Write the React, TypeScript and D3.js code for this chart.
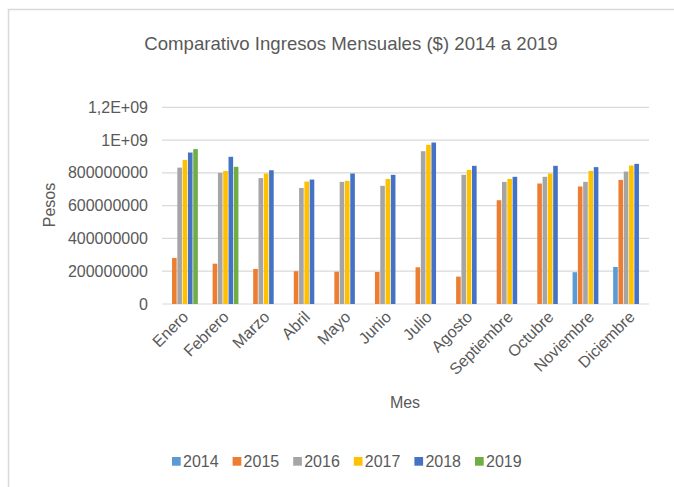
import React from "react";
import * as d3 from "d3";

const months = ["Enero","Febrero","Marzo","Abril","Mayo","Junio","Julio","Agosto","Septiembre","Octubre","Noviembre","Diciembre"];
const years = ["2014","2015","2016","2017","2018","2019"];
const colors = ["#5B9BD5","#ED7D31","#A5A5A5","#FFC000","#4472C4","#70AD47"];

const v2014 = [0,0,0,0,0,0,0,0,0,0,194e6,226e6];
const v2015 = [281e6,246e6,214e6,200e6,197e6,195e6,224e6,167e6,633e6,735e6,717e6,757e6];
const v2016 = [832e6,800e6,768e6,708e6,745e6,721e6,932e6,788e6,745e6,776e6,745e6,808e6];
const v2017 = [879e6,812e6,796e6,747e6,751e6,763e6,971e6,818e6,763e6,796e6,812e6,845e6];
const v2018 = [924e6,898e6,816e6,759e6,796e6,788e6,985e6,843e6,776e6,843e6,835e6,855e6];
const v2019 = [945e6,837e6,0,0,0,0,0,0,0,0,0,0];
const series = [v2014, v2015, v2016, v2017, v2018, v2019];

const yTicks = [0,2e8,4e8,6e8,8e8,1e9,1.2e9];
const yTickLabels = ["0","200000000","400000000","600000000","800000000","1E+09","1,2E+09"];

const title = "Comparativo Ingresos Mensuales ($) 2014 a 2019";

export default function App() {
  const W = 674, H = 487;
  const left = 162, right = 649, top = 107.3, bottom = 304;
  const x = d3.scaleBand<string>().domain(months).range([left, right]).paddingInner(0).paddingOuter(0);
  const y = d3.scaleLinear().domain([0, 1.2e9]).range([bottom, top]);
  const step = 5.3;
  const barW = 4.6;
  const font = "'Liberation Sans', Arial, sans-serif";
  const txt = "#595959";
  const grid = "#d9d9d9";

  return (
    <svg width={W} height={H} style={{ position: "absolute", left: 0, top: 0, background: "#fff" }} fontFamily={font}>
      <rect x={0} y={0} width={W} height={H} fill="#fff" />
      <path d={`M8.5,${H} V9.5 H${W}`} fill="none" stroke={grid} strokeWidth={1.5} />
      <text x={351} y={50} textAnchor="middle" fontSize={18.6} fill={txt}>{title}</text>
      {yTicks.map((t, i) => (
        <g key={i}>
          <line x1={left} x2={right} y1={y(t)} y2={y(t)} stroke={grid} strokeWidth={1.2} />
          <text x={148} y={y(t)} dy="0.35em" textAnchor="end" fontSize={16} fill={txt}>{yTickLabels[i]}</text>
        </g>
      ))}
      {months.map((m, mi) => {
        const c = (x(m) as number) + x.bandwidth() / 2;
        return (
          <g key={m}>
            {series.map((s, si) => {
              const v = s[mi];
              if (!v) return null;
              const bx = c + (si - 2.5) * step - barW / 2;
              return <rect key={si} x={bx} y={y(v)} width={barW} height={y(0) - y(v)} fill={colors[si]} />;
            })}
            <text transform={`translate(${c + 3},${314}) rotate(-45)`} textAnchor="end" dy="0.35em" fontSize={16} fill={txt}>{m}</text>
          </g>
        );
      })}
      <text transform={`translate(55,205) rotate(-90)`} textAnchor="middle" fontSize={16} fill={txt}>Pesos</text>
      <text x={405} y={408} textAnchor="middle" fontSize={16} fill={txt}>Mes</text>
      {years.map((yr, i) => {
        const lx = 172 + i * 60.6;
        return (
          <g key={yr}>
            <rect x={lx} y={457} width={8.7} height={8.7} fill={colors[i]} />
            <text x={lx + 11} y={461.5} dy="0.35em" fontSize={16} fill={txt}>{yr}</text>
          </g>
        );
      })}
    </svg>
  );
}
